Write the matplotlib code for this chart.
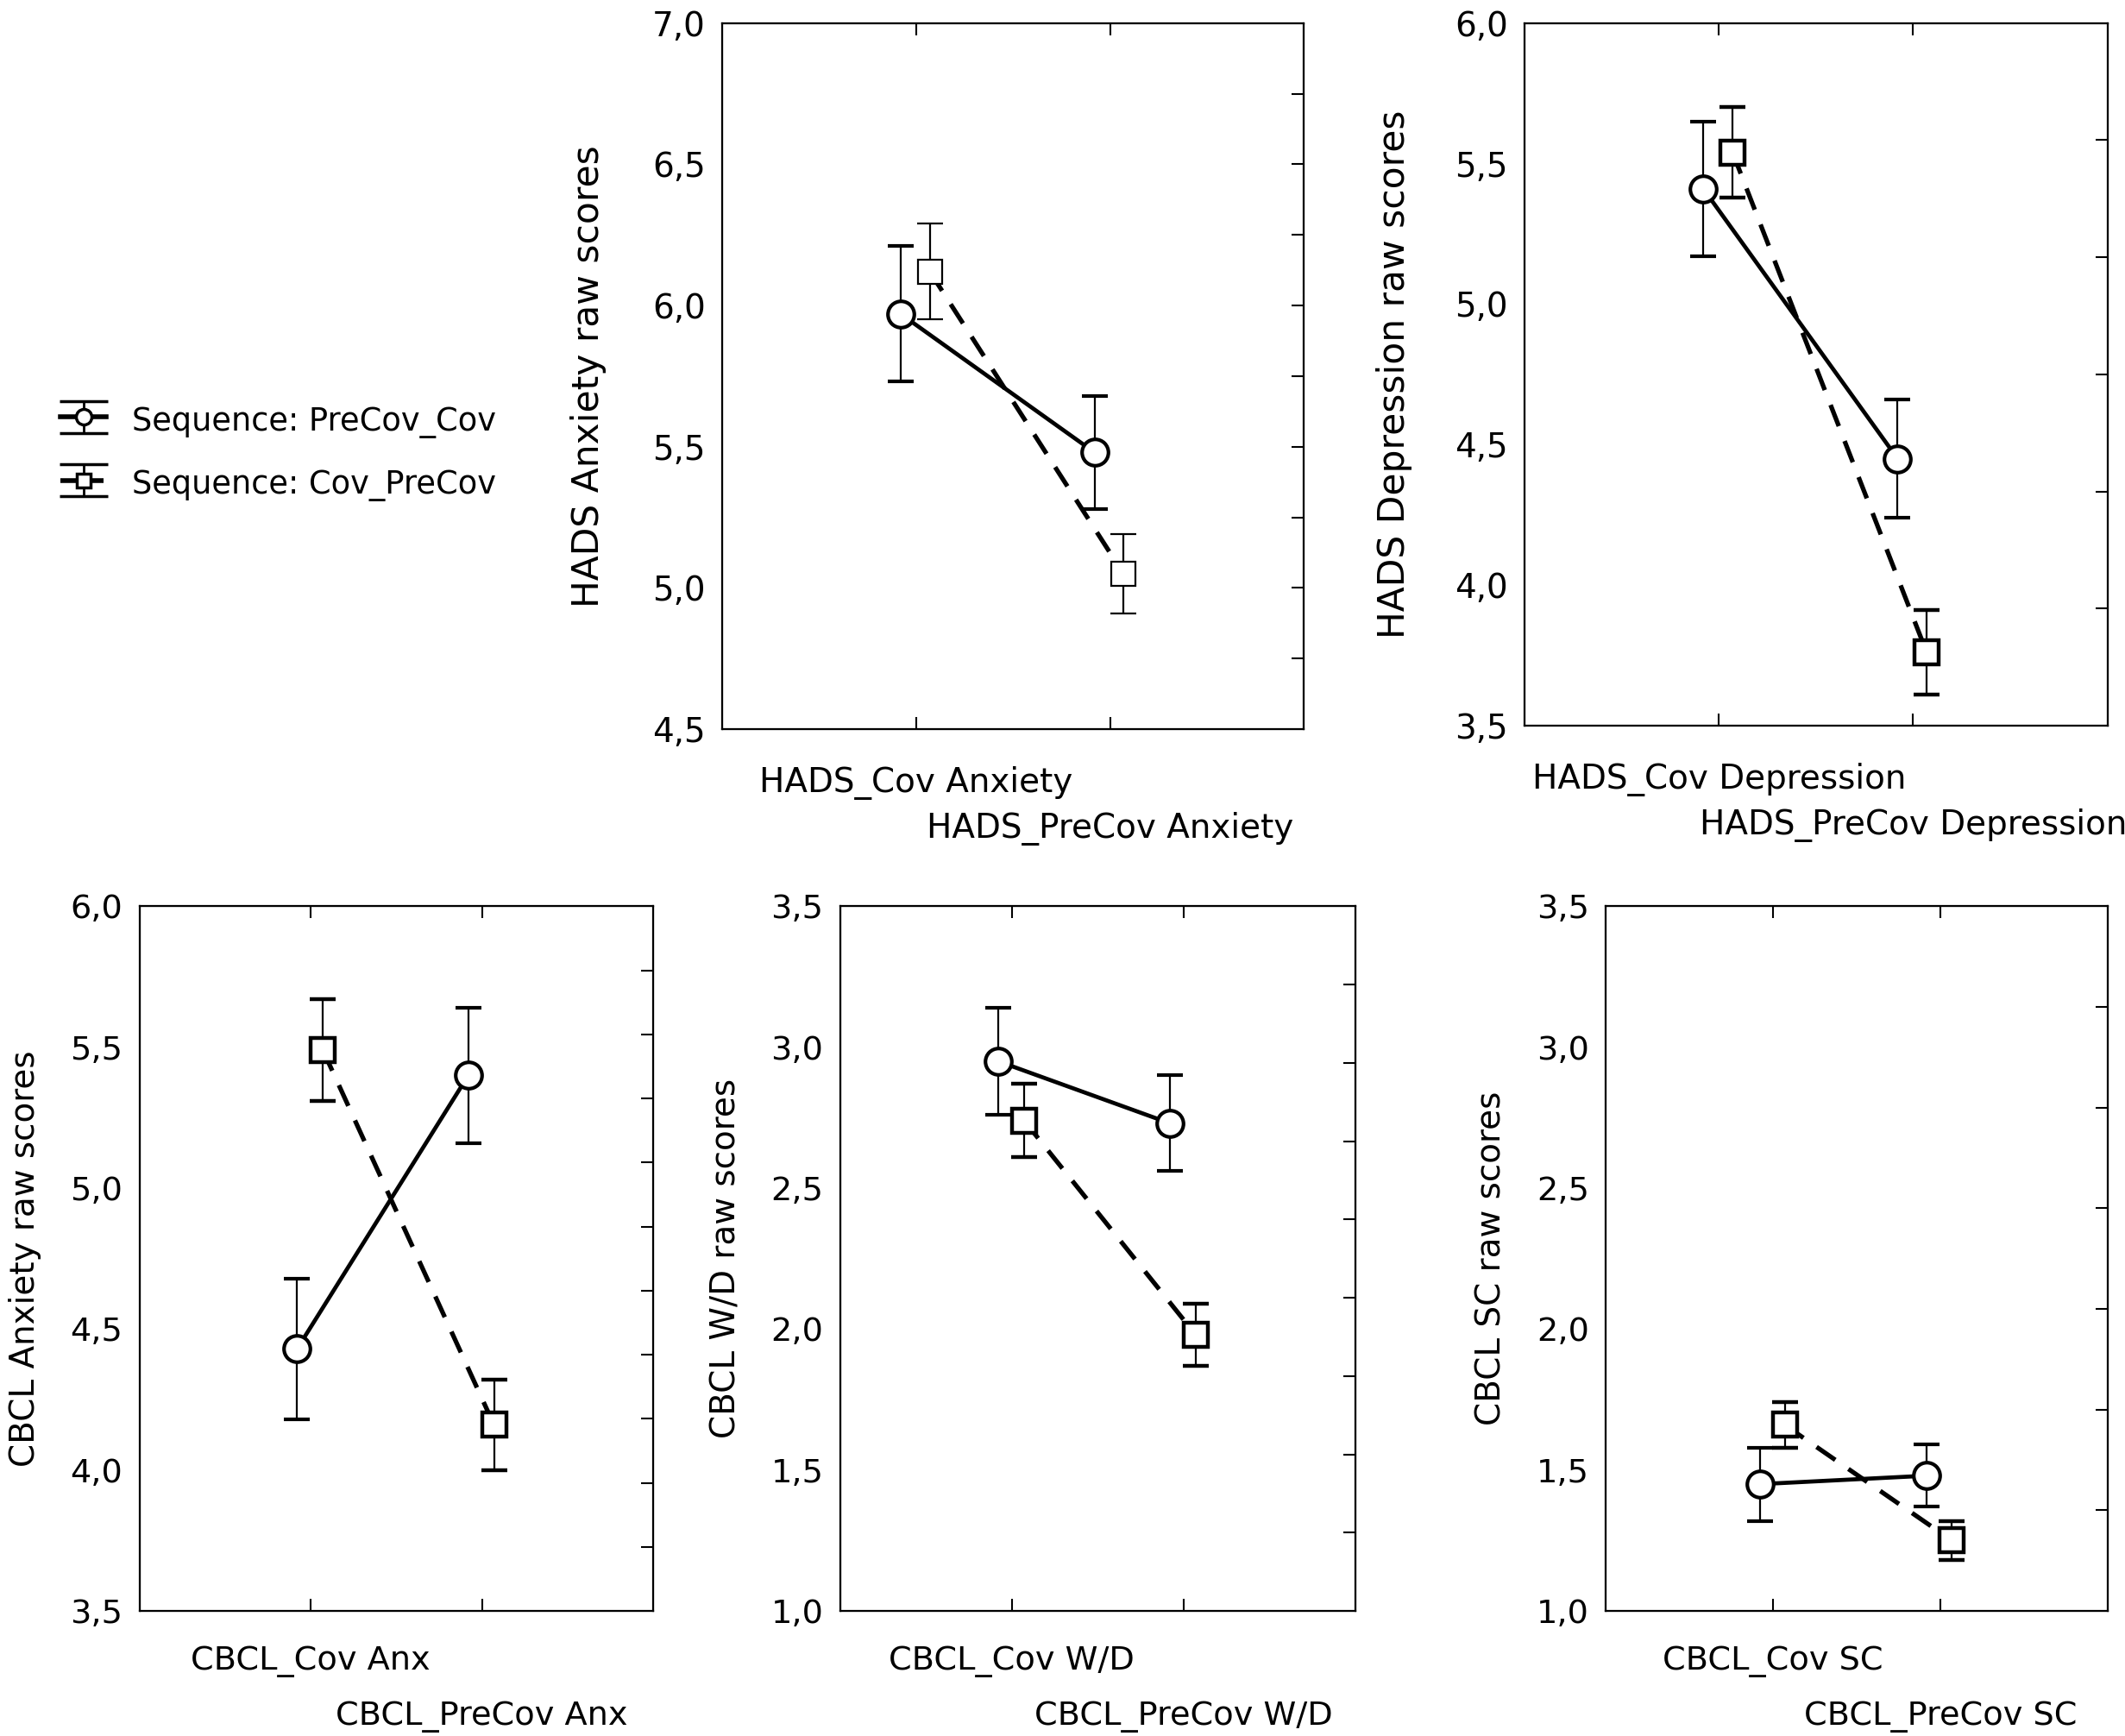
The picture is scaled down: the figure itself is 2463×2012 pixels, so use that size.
import numpy as np
import matplotlib
matplotlib.use("Agg")
import matplotlib.pyplot as plt

plt.rcParams['font.family'] = ['DejaVu Sans']

# category labels per panel
cats_hads_anx = ["HADS_Cov Anxiety", "HADS_PreCov Anxiety"]
cats_hads_dep = ["HADS_Cov Depression", "HADS_PreCov Depression"]
cats_cbcl_anx = ["CBCL_Cov Anx", "CBCL_PreCov Anx"]
cats_cbcl_wd = ["CBCL_Cov W/D", "CBCL_PreCov W/D"]
cats_cbcl_sc = ["CBCL_Cov SC", "CBCL_PreCov SC"]

series_names = ["Sequence: PreCov_Cov", "Sequence: Cov_PreCov"]

# means and error half-widths, sequence PreCov_Cov (circles) / Cov_PreCov (squares)
hads_anx_pc = [5.97, 5.48]
hads_anx_pc_err = [0.24, 0.20]
hads_anx_cp = [6.12, 5.05]
hads_anx_cp_err = [0.17, 0.14]

hads_dep_pc = [5.41, 4.45]
hads_dep_pc_err = [0.24, 0.21]
hads_dep_cp = [5.54, 3.76]
hads_dep_cp_err = [0.16, 0.15]

cbcl_anx_pc = [4.43, 5.40]
cbcl_anx_pc_err = [0.25, 0.24]
cbcl_anx_cp = [5.49, 4.16]
cbcl_anx_cp_err = [0.18, 0.16]

cbcl_wd_pc = [2.95, 2.73]
cbcl_wd_pc_err = [0.19, 0.17]
cbcl_wd_cp = [2.74, 1.98]
cbcl_wd_cp_err = [0.13, 0.11]

cbcl_sc_pc = [1.45, 1.48]
cbcl_sc_pc_err = [0.13, 0.11]
cbcl_sc_cp = [1.66, 1.25]
cbcl_sc_cp_err = [0.08, 0.07]

fig = plt.figure(figsize=(24.63, 20.12), dpi=100)

panels = [
    # rect, ylim, ylabel, cats, pc, pc_err, cp, cp_err, right tick intervals,
    # tick font, label font, square edge, label pads, ylabel pad
    ([0.340, 0.580, 0.2735, 0.4067], (4.5, 7.0), "HADS Anxiety raw scores", cats_hads_anx,
     hads_anx_pc, hads_anx_pc_err, hads_anx_cp, hads_anx_cp_err, 10, 28, 30.5, 1.6, (31, 69), 38),
    ([0.7175, 0.582, 0.2742, 0.4047], (3.5, 6.0), "HADS Depression raw scores", cats_hads_dep,
     hads_dep_pc, hads_dep_pc_err, hads_dep_cp, hads_dep_cp_err, 6, 28, 30.5, 3.2, (31, 69), 35),
    ([0.0657, 0.072, 0.2417, 0.406], (3.5, 6.0), "CBCL Anxiety raw scores", cats_cbcl_anx,
     cbcl_anx_pc, cbcl_anx_pc_err, cbcl_anx_cp, cbcl_anx_cp_err, 11, 27.5, 28, 3.2, (29, 75), 24),
    ([0.3954, 0.072, 0.2424, 0.406], (1.0, 3.5), "CBCL W/D raw scores", cats_cbcl_wd,
     cbcl_wd_pc, cbcl_wd_pc_err, cbcl_wd_cp, cbcl_wd_cp_err, 9, 27.5, 28, 3.2, (29, 75), 24),
    ([0.7557, 0.072, 0.236, 0.406], (1.0, 3.5), "CBCL SC raw scores", cats_cbcl_sc,
     cbcl_sc_pc, cbcl_sc_pc_err, cbcl_sc_cp, cbcl_sc_cp_err, 7, 27.5, 28, 3.2, (29, 75), 24),
]

for rect, ylim, ylab, cats, pc, pc_err, cp, cp_err, n_right, tfs, lfs, sq_mew, pads, ypad in panels:
    ax = fig.add_axes(rect)
    x = np.arange(len(cats))
    ax.errorbar(x - 0.08, pc, yerr=pc_err, fmt='-o', color='black', lw=3.4,
                ms=22, mfc='white', mec='black', mew=3.0,
                ecolor='black', elinewidth=1.6, capsize=11, capthick=1.6)
    ax.errorbar(x + 0.07, cp, yerr=cp_err, fmt='--s', color='black', lw=3.8,
                dashes=(5, 3.5), ms=20, mfc='white', mec='black', mew=sq_mew,
                ecolor='black', elinewidth=1.6, capsize=11, capthick=1.6)

    ax.set_xlim(-1, 2)
    ax.set_ylim(*ylim)
    ax.set_yticks(np.arange(ylim[0], ylim[1] + 0.01, 0.5))
    ax.set_yticklabels([f"{v:.1f}".replace('.', ',') for v in ax.get_yticks()], fontsize=tfs)
    ax.tick_params(axis='y', left=False, length=0, pad=14)
    ax.set_xticks(x)
    ax.set_xticklabels(cats, fontsize=tfs)
    ax.tick_params(axis='x', direction='in', top=True, length=10, width=1.5)
    xt = ax.xaxis.get_major_ticks()
    xt[0].set_pad(pads[0])
    xt[1].set_pad(pads[1])
    ax.set_ylabel(ylab, fontsize=lfs, labelpad=ypad)
    for s in ax.spines.values():
        s.set_linewidth(1.6)

    # right side ticks on their own scale
    tw = ax.twinx()
    tw.set_ylim(0, n_right)
    tw.set_yticks(np.arange(1, n_right))
    tw.tick_params(axis='y', direction='in', length=10, width=1.5, labelright=False)

# legend glyphs: proxy errorbars on a hidden axes
lax = fig.add_axes([0, 0, 0.01, 0.01])
lax.set_visible(False)
p1 = lax.errorbar([0], [0], yerr=[1], fmt='-o', color='black', lw=4, ms=13,
                  mfc='white', mec='black', mew=2.5, ecolor='black',
                  elinewidth=2, capsize=20, capthick=3)
p2 = lax.errorbar([0], [0], yerr=[1], fmt='--s', color='black', lw=4, ms=11,
                  mfc='white', mec='black', mew=2.5, ecolor='black',
                  elinewidth=2, capsize=20, capthick=3)

fig.legend([p1, p2], series_names, loc='upper left', bbox_to_anchor=(0.015, 0.784),
           frameon=False, fontsize=26.5, handlelength=1.45, labelspacing=0.9,
           handletextpad=0.8, handleheight=1.2)

fig.savefig("out.png", dpi=100)
